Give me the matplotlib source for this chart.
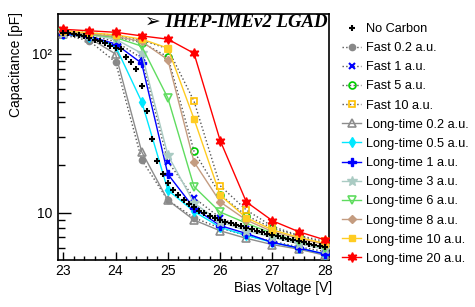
import matplotlib
matplotlib.use("Agg")
import matplotlib.pyplot as plt
from matplotlib.ticker import FixedLocator, FixedFormatter, LogLocator, MultipleLocator, NullFormatter

plt.rcParams["font.family"] = ["Liberation Sans", "DejaVu Sans"]

# bias voltage for the fitted series (0.5 V steps)
volts = [23.0, 23.5, 24.0, 24.5, 25.0, 25.5, 26.0, 26.5, 27.0, 27.5, 28.0]

fast_02 = [132, 121, 89, 21.5, 12.0, 9.3, 8.0, 7.2, 6.6, 6.1, 5.7]
fast_1 = [136, 131, 120, 94, 21.0, 12.4, 9.3, 7.9, 7.0, 6.4, 5.9]
fast_5 = [138, 134, 128, 118, 96, 24.4, 13.0, 9.6, 8.0, 7.1, 6.4]
fast_10 = [140, 136, 131, 122, 108, 50.5, 14.8, 10.4, 8.2, 7.2, 6.6]
lt_02 = [133, 126, 100, 24.2, 12.0, 9.0, 7.7, 6.9, 6.3, 5.9, 5.4]
lt_05 = [134, 128, 112, 50, 13.9, 10.2, 8.1, 7.2, 6.5, 6.0, 5.5]
lt_1 = [134, 129, 115.7, 87.4, 17.5, 10.7, 8.3, 7.4, 6.5, 6.0, 5.5]
lt_3 = [136, 132, 124, 101, 23.1, 11.5, 8.8, 7.7, 7.0, 6.4, 5.9]
lt_6 = [137, 133, 127, 112, 52.8, 14.6, 10.1, 8.6, 7.4, 6.6, 6.0]
lt_8 = [138, 134, 129, 120, 92, 20.9, 11.7, 9.0, 7.6, 6.9, 6.3]
lt_10 = [140, 136, 132, 124, 109, 39, 12.9, 9.3, 7.8, 7.0, 6.4]
lt_20 = [143, 140, 137, 130, 124, 101, 28.5, 11.7, 8.9, 7.6, 6.75]

# no-carbon reference, 0.1 V steps
nc_volts = [23.0, 23.1, 23.2, 23.3, 23.4, 23.5, 23.6, 23.7, 23.8, 23.9,
            24.0, 24.1, 24.2, 24.3, 24.4, 24.5, 24.6, 24.7, 24.8, 24.9,
            25.0, 25.1, 25.2, 25.3, 25.4, 25.5, 25.6, 25.7, 25.8, 25.9,
            26.0, 26.1, 26.2, 26.3, 26.4, 26.5, 26.6, 26.7, 26.8, 26.9,
            27.0, 27.1, 27.2, 27.3, 27.4, 27.5, 27.6, 27.7, 27.8, 27.9, 28.0]
nc_cap = [136, 135, 134, 132, 130, 127, 123, 120, 117, 113,
          109, 107, 96, 89, 80, 63, 44, 29, 21.2, 17.5,
          15.4, 13.9, 12.9, 12.1, 11.4, 10.8, 10.3, 9.9, 9.6, 9.3,
          9.0, 8.8, 8.6, 8.4, 8.2, 8.0, 7.85, 7.7, 7.55, 7.4,
          7.25, 7.1, 6.95, 6.8, 6.7, 6.6, 6.5, 6.4, 6.3, 6.2, 6.1]

DOT = "#555555"
SERIES = [
    ("Fast 0.2 a.u.", fast_02, dict(color=DOT, ls=":", marker="o", mfc="#888888", mec="#888888", ms=4.5)),
    ("Fast 1 a.u.", fast_1, dict(color=DOT, ls=":", marker="x", mfc="#0000ff", mec="#0000ff", ms=4.5, mew=1.5)),
    ("Fast 5 a.u.", fast_5, dict(color=DOT, ls=":", marker="o", mfc="none", mec="#00cc00", ms=5, mew=1.2)),
    ("Fast 10 a.u.", fast_10, dict(color=DOT, ls=":", marker="s", mfc="none", mec="#ffc000", ms=5, mew=1.2)),
    ("Long-time 0.2 a.u.", lt_02, dict(color="#8c8c8c", ls="-", marker="^", mfc="none", mec="#8c8c8c", ms=5.5, mew=1.2)),
    ("Long-time 0.5 a.u.", lt_05, dict(color="#00e8ff", ls="-", marker="d", mfc="#00e8ff", mec="#00e8ff", ms=5)),
    ("Long-time 1 a.u.", lt_1, dict(color="#0000ff", ls="-", marker="P", mfc="#0000ff", mec="#0000ff", ms=6)),
    ("Long-time 3 a.u.", lt_3, dict(color="#aacbc3", ls="-", marker="*", mfc="#aacbc3", mec="#aacbc3", ms=7)),
    ("Long-time 6 a.u.", lt_6, dict(color="#5fdc5f", ls="-", marker="v", mfc="none", mec="#5fdc5f", ms=5.5, mew=1.2)),
    ("Long-time 8 a.u.", lt_8, dict(color="#c49c80", ls="-", marker="D", mfc="#c49c80", mec="#c49c80", ms=4.5)),
    ("Long-time 10 a.u.", lt_10, dict(color="#ffcc22", ls="-", marker="s", mfc="#ffcc22", mec="#ffcc22", ms=5)),
    ("Long-time 20 a.u.", lt_20, dict(color="#ff0000", ls="-", marker=(6, 1, 0), mfc="#ff0000", mec="#ff0000", ms=7)),
]

fig = plt.figure(figsize=(4.75, 3.07), dpi=100)
ax = fig.add_axes([0.1221, 0.1531, 0.5705, 0.8013])

handles = []
h, = ax.plot(nc_volts, nc_cap, ls="none", marker="+", color="black", ms=4, mew=1.5,
             label="No Carbon", zorder=5)
handles.append(h)
for i, (label, vals, style) in enumerate(SERIES):
    h, = ax.plot(volts, vals, lw=1.0, label=label, zorder=3 + i * 0.1, **style)
    handles.append(h)

ax.set_yscale("log")
ax.set_xlim(22.9, 28.08)
ax.set_ylim(5.04, 178.6)

ax.xaxis.set_major_locator(MultipleLocator(1))
ax.xaxis.set_minor_locator(MultipleLocator(0.2))
ax.yaxis.set_major_locator(FixedLocator([10, 100]))
ax.yaxis.set_major_formatter(FixedFormatter(["10", "10²"]))
ax.yaxis.set_minor_locator(LogLocator(subs=range(2, 10)))
ax.yaxis.set_minor_formatter(NullFormatter())

ax.tick_params(axis="both", which="both", direction="in", top=False, right=False, width=1)
ax.tick_params(axis="x", which="major", length=6, labelsize=10, pad=3)
ax.tick_params(axis="x", which="minor", length=3)
ax.tick_params(axis="y", which="major", length=9, labelsize=10, pad=4)
ax.tick_params(axis="y", which="minor", length=5)
for s in ax.spines.values():
    s.set_linewidth(1.2)

ax.set_xlabel("Bias Voltage [V]", fontsize=10, loc="right")
ax.set_ylabel("Capacitance [pF]", fontsize=10, loc="top")
ax.xaxis.set_label_coords(1.01, -0.085)
ax.yaxis.set_label_coords(-0.13, 1.01)

ax.text(0.993, 0.967, "➢ IHEP-IMEv2 LGAD", transform=ax.transAxes, ha="right", va="center",
        fontsize=13.5, fontweight="bold", fontstyle="italic",
        family=["Liberation Serif", "DejaVu Sans"])

ax.legend(handles=handles, loc="upper left", bbox_to_anchor=(342 / 475, 1 - 23 / 307),
          bbox_transform=fig.transFigure, frameon=False, fontsize=9.2, numpoints=1,
          handlelength=1.5, handletextpad=0.35, labelspacing=0.56, borderpad=0,
          borderaxespad=0)

fig.savefig("out.png", dpi=100)
